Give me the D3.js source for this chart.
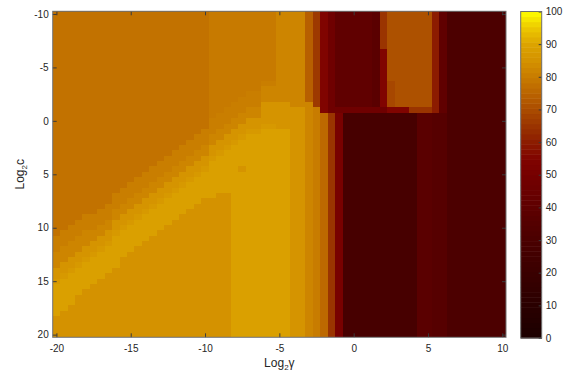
<!DOCTYPE html>
<html>
<head>
<meta charset="utf-8">
<script src="https://cdnjs.cloudflare.com/ajax/libs/d3/7.8.5/d3.min.js"></script>
<style>
  body { margin: 0; background: #ffffff; }
  svg { display: block; font-family: "Liberation Sans", Arial, Helvetica, sans-serif; }
  .axis path { display: none; }
  .axis line { stroke: #3a3a3a; }
  .axis text { font-size: 10px; fill: #262626; }
  .axisLabel { font-size: 12px; fill: #262626; }
</style>
</head>
<body>
<div id="heatmap"></div>
<script>
// Grid search result: Log2(gamma) across, Log2(c) down, accuracy in percent
var gammaValues = [-20,-19.5,-19,-18.5,-18,-17.5,-17,-16.5,-16,-15.5,-15,-14.5,-14,-13.5,-13,-12.5,
  -12,-11.5,-11,-10.5,-10,-9.5,-9,-8.5,-8,-7.5,-7,-6.5,-6,-5.5,-5,-4.5,-4,-3.5,-3,-2.5,-2,-1.5,-1,-0.5,
  0,0.5,1,1.5,2,2.5,3,3.5,4,4.5,5,5.5,6,6.5,7,7.5,8,8.5,9,9.5,10];
var cValues = [-10,-9.5,-9,-8.5,-8,-7.5,-7,-6.5,-6,-5.5,-5,-4.5,-4,-3.5,-3,-2.5,-2,-1.5,-1,-0.5,
  0,0.5,1,1.5,2,2.5,3,3.5,4,4.5,5,5.5,6,6.5,7,7.5,8,8.5,9,9.5,10,10.5,11,11.5,12,12.5,13,13.5,14,14.5,
  15,15.5,16,16.5,17,17.5,18,18.5,19,19.5,20];

// accuracy levels seen in the picture, one letter each
var levelKeys   = ["a", "b",  "c",  "d", "e",  "f", "g", "h", "j", "k", "l", "m", "n", "o", "p", "q", "r", "s", "t", "u", "v", "w", "x", "z"];
var levelValues = [78,  79.5, 80.5, 82,  85.5, 87,  89,  85,  74,  66,  55,  47,  41,  38,  31,  65,  71,  60,  51,  76,  80,  69,  28,  36];

// one string per Log2(c) row, run-length coded (letter + number of cells), left to right
var accuracyRows = [
  "a21 b9 d4 j1 k1 l1 m1 n5 o1 q1 r6 s1 n1 p8",
  "a21 b9 d4 j1 k1 l1 m1 n5 o1 q1 r6 s1 n1 p8",
  "a21 b9 d4 j1 k1 l1 m1 n5 o1 q1 r6 s1 n1 p8",
  "a21 b9 d4 j1 k1 l1 m1 n5 o1 q1 r6 s1 n1 p8",
  "a21 b9 d4 j1 k1 l1 m1 n5 o1 q1 r6 s1 n1 p8",
  "a21 b9 d4 j1 k1 l1 m1 n5 o1 q1 r6 s1 n1 p8",
  "a21 b9 d4 j1 k1 l1 m1 n5 o1 q1 r6 s1 n1 p8",
  "a21 b9 d4 j1 k1 l1 m1 n5 o1 l1 r6 s1 n1 p8",
  "a21 b9 d4 j1 k1 l1 m1 n5 o1 l1 r6 s1 n1 p8",
  "a21 b9 d4 j1 k1 l1 m1 n5 o1 l1 r6 s1 n1 p8",
  "a21 b9 d4 j1 k1 l1 m1 n5 o1 l1 r6 s1 n1 p8",
  "a21 b9 d4 j1 k1 l1 m1 n5 o1 l1 r6 s1 n1 p8",
  "a21 b9 d4 j1 k1 l1 m1 n5 o1 l1 r6 s1 n1 p8",
  "a21 b7 c2 d4 j1 k1 l1 m1 n5 o1 l1 w1 r5 s1 n1 p8",
  "a21 b7 d6 j1 k1 l1 m1 n5 o1 l1 w1 r5 s1 n1 p8",
  "a21 b5 c2 d6 j1 k1 l1 m1 n5 o1 l1 w1 r5 s1 n1 p8",
  "a21 b4 c3 d6 j1 k1 l1 m1 n5 o1 l1 w1 r5 s1 n1 p8",
  "a21 b3 c4 e4 d2 d1 k1 l1 m1 n5 o1 l1 w1 r5 s1 n1 p8",
  "a21 b2 c3 d2 e6 d1 v1 l1 m8 l3 q3 s1 n1 p8",
  "a21 b1 c3 d3 e6 d1 v1 u1 q1 t1 x10 o2 z2 p8",
  "a21 c3 d2 e8 d1 v1 u1 q1 t1 x10 o2 z2 p8",
  "a21 c2 d2 e3 f2 e4 d1 v1 u1 q1 t1 x10 o2 z2 p8",
  "a20 c2 d2 e2 f2 g4 e2 d1 v1 u1 q1 t1 x10 o2 z2 p8",
  "a19 c2 d2 e2 f1 g6 e2 d1 v1 u1 q1 t1 x10 o2 z2 p8",
  "a18 c3 d1 e2 f1 g7 e2 d1 v1 u1 q1 t1 x10 o2 z2 p8",
  "a17 c3 d1 e2 f1 g8 e2 d1 v1 u1 q1 t1 x10 o2 z2 p8",
  "a16 c3 d2 e1 f1 g9 e2 d1 v1 u1 q1 t1 x10 o2 z2 p8",
  "a15 c3 d2 e1 f1 g10 e2 d1 v1 u1 q1 t1 x10 o2 z2 p8",
  "a14 c3 d2 e2 g11 e2 d1 v1 u1 q1 t1 x10 o2 z2 p8",
  "a13 c3 d2 e2 f1 g4 e1 g6 e2 d1 v1 u1 q1 t1 x10 o2 z2 p8",
  "a12 c3 d2 e2 f1 g12 e2 d1 v1 u1 q1 t1 x10 o2 z2 p8",
  "a11 c3 d2 e2 f1 g13 e2 d1 v1 u1 q1 t1 x10 o2 z2 p8",
  "a10 c3 d2 e2 f1 g14 e2 d1 v1 u1 q1 t1 x10 o2 z2 p8",
  "a9 c3 d2 e2 f1 g15 e2 d1 v1 u1 q1 t1 x10 o2 z2 p8",
  "a8 c3 d2 e2 f1 g6 h2 g8 e2 d1 v1 u1 q1 t1 x10 o2 z2 p8",
  "a8 c2 d2 e2 f1 g5 h4 g8 e2 d1 v1 u1 q1 t1 x10 o2 z2 p8",
  "a7 c2 d2 e2 f1 g5 h5 g8 e2 d1 v1 u1 q1 t1 x10 o2 z2 p8",
  "a6 c2 d2 e2 f1 g5 h6 g8 e2 d1 v1 u1 q1 t1 x10 o2 z2 p8",
  "a4 c4 d1 e2 f1 g5 h7 g8 e2 d1 v1 u1 q1 t1 x10 o2 z2 p8",
  "a3 c4 d1 e2 f1 g5 h8 g8 e2 d1 v1 u1 q1 t1 x10 o2 z2 p8",
  "a2 c4 d2 e1 f1 g5 h9 g8 e2 d1 v1 u1 q1 t1 x10 o2 z2 p8",
  "a1 c3 d3 e1 f1 g5 h10 g8 e2 d1 v1 u1 q1 t1 x10 o2 z2 p8",
  "c3 d3 e2 g5 h11 g8 e2 d1 v1 u1 q1 t1 x10 o2 z2 p8",
  "c2 d3 e2 f1 g4 h12 g8 e2 d1 v1 u1 q1 t1 x10 o2 z2 p8",
  "c1 d3 e2 f1 g4 h13 g8 e2 d1 v1 u1 q1 t1 x10 o2 z2 p8",
  "d3 e2 f1 g4 h14 g8 e2 d1 v1 u1 q1 t1 x10 o2 z2 p8",
  "d2 e2 f1 g4 h15 g8 e2 d1 v1 u1 q1 t1 x10 o2 z2 p8",
  "d1 e2 f1 g5 h15 g8 e2 d1 v1 u1 q1 t1 x10 o2 z2 p8",
  "e2 f1 g5 h16 g8 e2 d1 v1 u1 q1 t1 x10 o2 z2 p8",
  "e1 f1 g5 h17 g8 e2 d1 v1 u1 q1 t1 x10 o2 z2 p8",
  "f1 g5 h18 g8 e2 d1 v1 u1 q1 t1 x10 o2 z2 p8",
  "g5 h19 g8 e2 d1 v1 u1 q1 t1 x10 o2 z2 p8",
  "g4 h20 g8 e2 d1 v1 u1 q1 t1 x10 o2 z2 p8",
  "g3 h21 g8 e2 d1 v1 u1 q1 t1 x10 o2 z2 p8",
  "g3 h21 g8 e2 d1 v1 u1 q1 t1 x10 o2 z2 p8",
  "g2 h22 g8 e2 d1 v1 u1 q1 t1 x10 o2 z2 p8",
  "g1 h23 g8 e2 d1 v1 u1 q1 t1 x10 o2 z2 p8",
  "h24 g8 e2 d1 v1 u1 q1 t1 x10 o2 z2 p8",
  "h24 g8 e2 d1 v1 u1 q1 t1 x10 o2 z2 p8",
  "h24 g8 e2 d1 v1 u1 q1 t1 x10 o2 z2 p8",
  "h24 g8 e2 d1 v1 u1 q1 t1 x10 o2 z2 p8"
];

// tick labels
var xTicks = [-20, -15, -10, -5, 0, 5, 10];
var yTicks = [-10, -5, 0, 5, 10, 15, 20];
var barTicks = [0, 10, 20, 30, 40, 50, 60, 70, 80, 90, 100];

// colormap (black - dark red - orange - yellow)
var colorStops = [0, 10, 20, 30, 40, 50, 55, 60, 65, 70, 75, 80, 85, 90, 95, 100];
var colorStopColors = ["#1c0000", "#2a0000", "#3a0000", "#4a0000", "#5e0000", "#760000", "#800400",
  "#8c1c00", "#9a3400", "#aa4c00", "#ba6400", "#c87c00", "#d49200", "#dca400", "#ecc800", "#ffff00"];

// Chart set up
var svgWidth = 569;
var svgHeight = 373;
var plot = { left: 52.7, top: 11.3, right: 506, bottom: 337.3 };
var bar = { left: 520.7, right: 541.7, top: 11.5, bottom: 338 };
var halfStep = 0.25;
var plainNumber = d => String(d);   // keep ASCII hyphen for negatives

var svg = d3.select("#heatmap")
  .append("svg")
  .attr("width", svgWidth)
  .attr("height", svgHeight);

var xScale = d3.scaleLinear().domain([-20.25, 10.25]).range([plot.left, plot.right]);
var yScale = d3.scaleLinear().domain([-10.25, 20.25]).range([plot.top, plot.bottom]);
var colorScale = d3.scaleLinear().domain(colorStops).range(colorStopColors).clamp(true);

// unpack the rows into cells
var cells = [];
accuracyRows.forEach(function(row, j) {
  var i = 0;
  row.split(" ").forEach(function(token) {
    var value = levelValues[levelKeys.indexOf(token[0])];
    var count = +token.slice(1);
    for (var k = 0; k < count; k++) {
      cells.push({ gamma: gammaValues[i], c: cValues[j], value: value });
      i++;
    }
  });
});

svg.append("g")
  .selectAll("rect")
  .data(cells)
  .enter()
  .append("rect")
  .attr("x", d => xScale(d.gamma - halfStep))
  .attr("y", d => yScale(d.c - halfStep))
  .attr("width", d => xScale(d.gamma + halfStep) - xScale(d.gamma - halfStep))
  .attr("height", d => yScale(d.c + halfStep) - yScale(d.c - halfStep))
  .attr("fill", d => colorScale(d.value))
  .attr("shape-rendering", "crispEdges");

// axes, ticks pointing inward on all four sides
svg.append("g").attr("class", "axis")
  .attr("transform", `translate(0, ${plot.bottom})`)
  .call(d3.axisBottom(xScale).tickValues(xTicks).tickFormat(plainNumber)
    .tickSizeInner(-4).tickSizeOuter(0).tickPadding(8));
svg.append("g").attr("class", "axis")
  .attr("transform", `translate(0, ${plot.top})`)
  .call(d3.axisTop(xScale).tickValues(xTicks).tickSizeInner(-4).tickSizeOuter(0).tickFormat(""));
svg.append("g").attr("class", "axis")
  .attr("transform", `translate(${plot.left}, 0)`)
  .call(d3.axisLeft(yScale).tickValues(yTicks).tickFormat(plainNumber)
    .tickSizeInner(-4).tickSizeOuter(0).tickPadding(4));
svg.append("g").attr("class", "axis")
  .attr("transform", `translate(${plot.right}, 0)`)
  .call(d3.axisRight(yScale).tickValues(yTicks).tickSizeInner(-4).tickSizeOuter(0).tickFormat(""));

svg.append("rect")
  .attr("x", plot.left).attr("y", plot.top)
  .attr("width", plot.right - plot.left).attr("height", plot.bottom - plot.top)
  .attr("fill", "none").attr("stroke", "#6e6e6e").attr("stroke-width", 1);

// axis labels
var xLabel = svg.append("text").attr("class", "axisLabel")
  .attr("x", (plot.left + plot.right) / 2).attr("y", 367)
  .attr("text-anchor", "middle");
xLabel.append("tspan").text("Log");
xLabel.append("tspan").attr("dy", 3).attr("font-size", "8px").text("2");
xLabel.append("tspan").attr("dy", -3).text("γ");

var yLabel = svg.append("text").attr("class", "axisLabel")
  .attr("transform", `translate(24, ${(plot.top + plot.bottom) / 2}) rotate(-90)`)
  .attr("text-anchor", "middle");
yLabel.append("tspan").text("Log");
yLabel.append("tspan").attr("dy", 3).attr("font-size", "8px").text("2");
yLabel.append("tspan").attr("dy", -3).text("c");

// colorbar, 64 bands like the colormap
var barScale = d3.scaleLinear().domain([0, 100]).range([bar.bottom, bar.top]);
var bands = d3.range(64);
svg.append("g")
  .selectAll("rect")
  .data(bands)
  .enter()
  .append("rect")
  .attr("x", bar.left)
  .attr("width", bar.right - bar.left)
  .attr("y", d => barScale((d + 1) * 100 / 64))
  .attr("height", d => barScale(d * 100 / 64) - barScale((d + 1) * 100 / 64) + 0.5)
  .attr("fill", d => colorScale((d + 0.5) * 100 / 64));

svg.append("g").attr("class", "axis")
  .attr("transform", `translate(${bar.right}, 0)`)
  .call(d3.axisRight(barScale).tickValues(barTicks).tickFormat(plainNumber)
    .tickSizeInner(-3).tickSizeOuter(0).tickPadding(4));

svg.append("rect")
  .attr("x", bar.left).attr("y", bar.top)
  .attr("width", bar.right - bar.left).attr("height", bar.bottom - bar.top)
  .attr("fill", "none").attr("stroke", "#6e6e6e").attr("stroke-width", 1);
</script>
</body>
</html>
